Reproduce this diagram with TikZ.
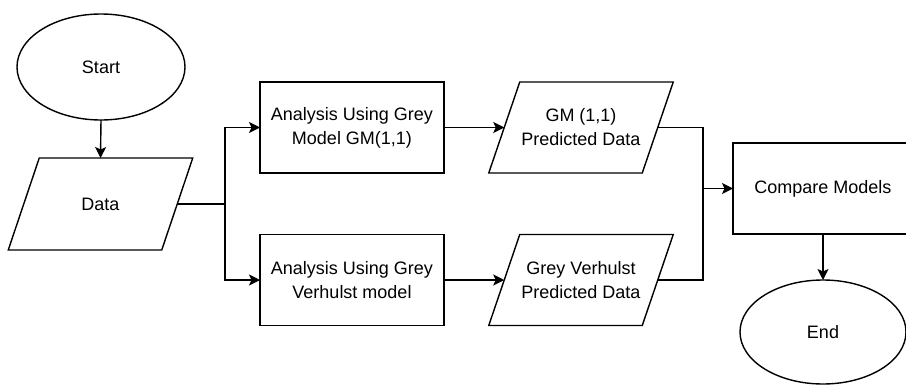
\documentclass[tikz,border=0pt]{standalone}
\usepackage{fontspec}
\setmainfont{Liberation Sans}
\usetikzlibrary{shapes.geometric,arrows.meta}
\begin{document}
\begin{tikzpicture}[x=1pt,y=-1pt,
  every node/.style={font=\fontsize{18}{24}\selectfont, align=center, inner sep=0pt, outer sep=0pt},
  line/.style={line width=1.4pt, draw=black},
  boxnode/.style={line, rectangle, minimum width=184pt, minimum height=91pt},
  ovalnode/.style={line, ellipse},
  iobase/.style={rectangle, minimum width=153.5pt, minimum height=91pt},
  conn/.style={line, -{Stealth[length=11pt,width=11pt,inset=2.5pt]}}
]
\clip (0,0) rectangle (906,386);
\fill[white] (0,0) rectangle (906,386);

% nodes
\node[ovalnode, minimum width=168pt, minimum height=106pt] (start) at (101,67) {Start};
\node[iobase, minimum height=92pt] (data) at (100.5,204) {Data};
\node[boxnode] (box1) at (352,127.5) {Analysis Using Grey\\Model GM(1,1)};
\node[boxnode] (box2) at (352,280) {Analysis Using Grey\\Verhulst model};
\node[iobase] (gm) at (581,127.5) {GM (1,1)\\Predicted Data};
\node[iobase] (gv) at (581,280) {Grey Verhulst\\Predicted Data};
\node[boxnode, minimum width=180pt] (cmp) at (823,188.5) {Compare Models};
\node[ovalnode, minimum width=166pt, minimum height=104pt] (end) at (823,332) {End};

% parallelogram outlines
\foreach \n in {data,gm,gv}{
  \draw[line] ([xshift=15.5pt]\n.north west) -- ([xshift=15.5pt]\n.north east)
    -- ([xshift=-15.5pt]\n.south east) -- ([xshift=-15.5pt]\n.south west) -- cycle;
}

% junction coordinates
\coordinate (j1) at (225,204);
\coordinate (m) at (703,188.5);

% connectors
\draw[conn] (start.south) -- (data.north);
\draw[line] (data.east) -- (j1);
\draw[conn] (j1) |- (box1.west);
\draw[conn] (j1) |- (box2.west);
\draw[conn] (box1.east) -- (gm.west);
\draw[conn] (box2.east) -- (gv.west);
\draw[line] (gm.east) -| (m);
\draw[line] (gv.east) -| (m);
\draw[conn] (m) -- (cmp.west);
\draw[conn] (cmp.south) -- (end.north);
\end{tikzpicture}
\end{document}
